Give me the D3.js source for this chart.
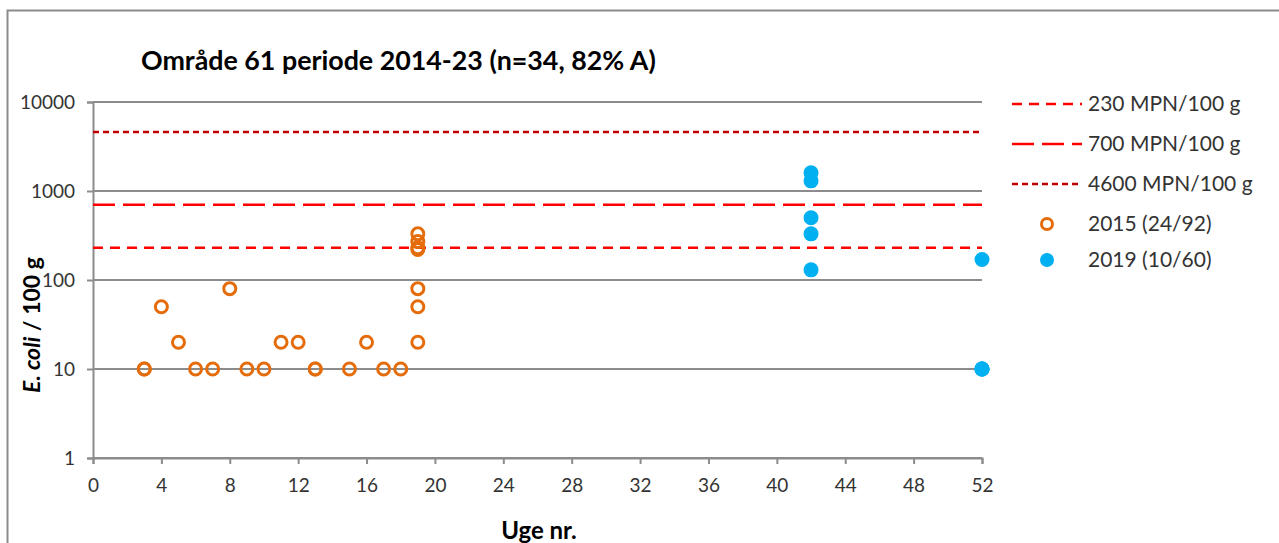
<!DOCTYPE html>
<html><head><meta charset="utf-8">
<script src="https://cdn.jsdelivr.net/npm/d3@7"></script>
<style>body{margin:0;background:#fff;}svg{display:block;}text{font-variant-numeric:tabular-nums;}</style>
</head><body>
<svg id="c" width="1279" height="543"></svg>
<script>
const title = "Område 61 periode 2014-23 (n=34, 82% A)";
const xTicks = [0,4,8,12,16,20,24,28,32,36,40,44,48,52];
const yTicks = [1,10,100,1000,10000];
const limits = [230, 700, 4600];
const limitLabels = ["230 MPN/100 g","700 MPN/100 g","4600 MPN/100 g"];
const weeks2015 = [3,3,4,5,6,7,8,9,10,11,12,13,13,15,16,17,18,19,19,19,19,19,19,19];
const values2015 = [10,10,50,20,10,10,80,10,10,20,20,10,10,10,20,10,10,20,50,80,220,230,270,330];
const weeks2019 = [42,42,42,42,42,52,52,52,52,52];
const values2019 = [1600,1300,500,330,130,170,10,10,10,10];
const seriesLabels = ["2015 (24/92)","2019 (10/60)"];

const svg = d3.select("#c");
const font = "Lato, 'Open Sans', sans-serif";
const L=93, R=982, T=102, B=458;
const x = d3.scaleLinear().domain([0,52]).range([L,R]);
const y = d3.scaleLog().domain([1,10000]).range([B,T]);

svg.append("rect").attr("x",7.5).attr("y",10.5).attr("width",1290).attr("height",600)
  .attr("fill","none").attr("stroke","#8c8c8c").attr("stroke-width",2);

// gridlines
svg.append("g").selectAll("line").data(yTicks).join("line")
  .attr("x1",L).attr("x2",R).attr("y1",d=>y(d)).attr("y2",d=>y(d))
  .attr("stroke","#8c8c8c").attr("stroke-width",2);

// axes
const yAxis = svg.append("g").attr("transform",`translate(${L},0)`)
  .call(d3.axisLeft(y).tickValues(yTicks).tickFormat(d3.format("d")).tickSize(6).tickPadding(12));
const xAxis = svg.append("g").attr("transform",`translate(0,${B})`)
  .call(d3.axisBottom(x).tickValues(xTicks).tickSize(6).tickPadding(15));
[yAxis,xAxis].forEach(a=>{
  a.select(".domain").attr("stroke","#8c8c8c").attr("stroke-width",2);
  a.selectAll(".tick line").attr("stroke","#8c8c8c").attr("stroke-width",2);
  a.selectAll("text").attr("font-family",font).attr("font-size",19).attr("fill","#333");
});

// limit lines
const dashes = ["10,7","22,8","6,4"];
const colors = ["#ff0000","#ff0000","#c00000"];
svg.append("g").selectAll("line").data(limits).join("line")
  .attr("x1",L).attr("x2",R).attr("y1",d=>y(d)).attr("y2",d=>y(d))
  .attr("stroke",(d,i)=>colors[i]).attr("stroke-width",2.5).attr("stroke-dasharray",(d,i)=>dashes[i]);

// points
const d2015 = weeks2015.map((w,i)=>({w,v:values2015[i]}));
const d2019 = weeks2019.map((w,i)=>({w,v:values2019[i]}));
svg.append("g").selectAll("circle").data(d2015).join("circle")
  .attr("cx",d=>x(d.w)).attr("cy",d=>y(d.v)).attr("r",6)
  .attr("fill","none").attr("stroke","#e46c0a").attr("stroke-width",3);
svg.append("g").selectAll("circle").data(d2019).join("circle")
  .attr("cx",d=>x(d.w)).attr("cy",d=>y(d.v)).attr("r",7.5)
  .attr("fill","#00b0f0");

// title
svg.append("text").attr("x",141).attr("y",70).text(title)
  .attr("font-family",font).attr("font-weight","bold").attr("font-size",26.8).attr("fill","#000");

// axis titles
svg.append("text").attr("x",539).attr("y",539).attr("text-anchor","middle").text("Uge nr.")
  .attr("font-family",font).attr("font-weight","bold").attr("font-size",24);
const yt = svg.append("text").attr("transform","translate(40,325) rotate(-90)").attr("text-anchor","middle")
  .attr("font-family",font).attr("font-weight","bold").attr("font-size",23);
yt.append("tspan").attr("font-style","italic").text("E. coli");
yt.append("tspan").text(" / 100 g");

// legend
const lg = svg.append("g");
const rowsY = [104,144,184,224,260];
limits.forEach((d,i)=>{
  lg.append("line").attr("x1",1012).attr("x2",1082).attr("y1",rowsY[i]).attr("y2",rowsY[i])
    .attr("stroke",colors[i]).attr("stroke-width",2.5).attr("stroke-dasharray",dashes[i]);
  lg.append("text").attr("x",1088).attr("y",rowsY[i]+7).text(limitLabels[i])
    .attr("font-family",font).attr("font-size",21).attr("fill","#333");
});
lg.append("circle").attr("cx",1047).attr("cy",rowsY[3]).attr("r",5.5).attr("fill","none")
  .attr("stroke","#e46c0a").attr("stroke-width",3);
lg.append("circle").attr("cx",1047).attr("cy",rowsY[4]).attr("r",7).attr("fill","#00b0f0");
seriesLabels.forEach((t,i)=>{
  lg.append("text").attr("x",1088).attr("y",rowsY[3+i]+7).text(t)
    .attr("font-family",font).attr("font-size",21).attr("fill","#333");
});
</script>
</body></html>
